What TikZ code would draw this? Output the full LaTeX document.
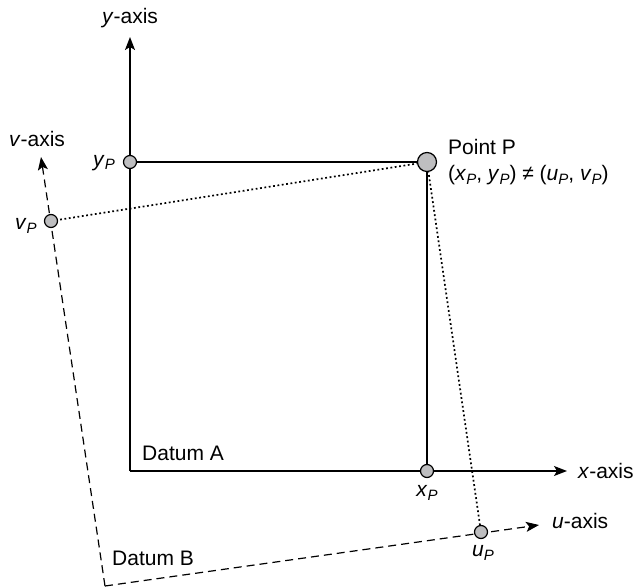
\documentclass[tikz,border=0pt]{standalone}
\usepackage{fontspec}
\setmainfont{Liberation Sans}
\usetikzlibrary{arrows.meta}
\newcommand\subP{\raisebox{-0.17em}{\fontsize{15}{15}\selectfont\itshape P}}
\definecolor{ptgray}{RGB}{190,190,192}
\begin{document}
\begin{tikzpicture}[x=1pt,y=-1pt,
  axis/.style={line width=1.3pt,-{Stealth[length=13pt,width=10pt,inset=3pt]}},
  solidline/.style={line width=1.3pt},
  dashaxis/.style={line width=1.2pt,dash pattern=on 8pt off 5pt,-{Stealth[length=13pt,width=10pt,inset=3pt]}},
  dotline/.style={line width=1.7pt,dash pattern=on 1.8pt off 2.6pt},
  dotpt/.style={circle,draw,line width=1.2pt,fill=ptgray,inner sep=0pt,minimum size=13pt},
  bigpt/.style={circle,draw,line width=1.2pt,fill=ptgray,inner sep=0pt,minimum size=19pt},
  lbl/.style={inner sep=0pt,font=\fontsize{21}{25}\selectfont}]
\useasboundingbox (0,0) rectangle (641,587);
% positions
\coordinate (OA) at (130,471);
\coordinate (ytip) at (130,37);
\coordinate (xtip) at (567,471);
\coordinate (OB) at (105,586);
\coordinate (utip) at (539,525);
\coordinate (vtip) at (41,157);
\coordinate (cP) at (427,162);
\coordinate (cyP) at (130,162);
\coordinate (cxP) at (427,471);
\coordinate (cvP) at (51,221);
\coordinate (cuP) at (481,532);
% axes
\draw[axis] (OA) -- (ytip);
\draw[axis] (OA) -- (xtip);
\draw[dashaxis] (OB) -- (utip);
\draw[dashaxis] (OB) -- (vtip);
% projections
\draw[solidline] (cyP) -- (cP);
\draw[solidline] (cP) -- (cxP);
\draw[dotline] (cP) -- (cvP);
\draw[dotline] (cP) -- (cuP);
% points
\node[dotpt] (yP) at (cyP) {};
\node[dotpt] (xP) at (cxP) {};
\node[dotpt] (vP) at (cvP) {};
\node[dotpt] (uP) at (cuP) {};
\node[bigpt] (P) at (cP) {};
% labels
\node[lbl] (ylab) at (130,18) {\textit{y}-axis};
\node[lbl] (vlab) at (37,139) {\textit{v}-axis};
\node[lbl,anchor=west] (xlab) at (578,471) {\textit{x}-axis};
\node[lbl,anchor=west] (ulab) at (552,521) {\textit{u}-axis};
\node[lbl] (yPlab) at (104,163) {\textit{y}\subP};
\node[lbl] (vPlab) at (26,226) {\textit{v}\subP};
\node[lbl] (xPlab) at (427,493) {\textit{x}\subP};
\node[lbl] (uPlab) at (483,553) {\textit{u}\subP};
\node[lbl,anchor=west] (Plab) at (448,147) {Point P};
\node[lbl,anchor=west] (coord) at (448,175) {(\textit{x}\subP, \textit{y}\subP) ≠ (\textit{u}\subP, \textit{v}\subP)};
\node[lbl,anchor=west] (dA) at (142,453) {Datum A};
\node[lbl,anchor=west] (dB) at (112,558) {Datum B};
\end{tikzpicture}
\end{document}
